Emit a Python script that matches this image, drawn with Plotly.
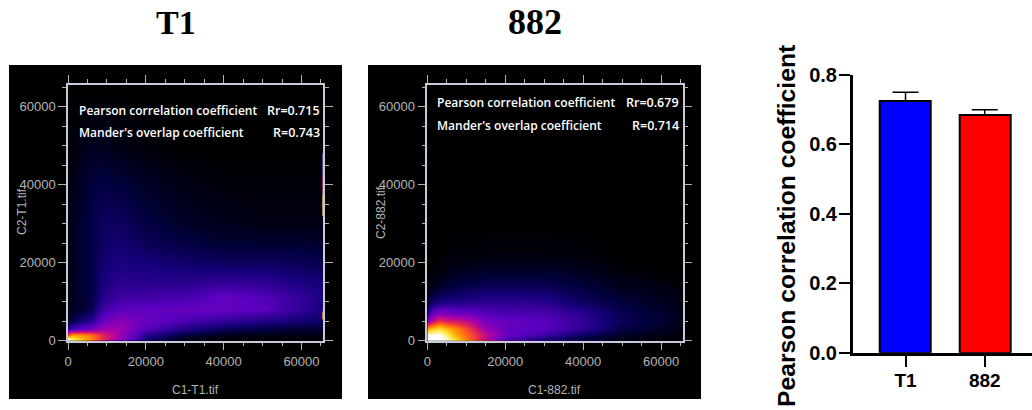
import plotly.graph_objects as go

W, H = 1032, 410

# ---------- data ----------
t1_x = [0, 1000, 3000, 6000, 9000, 13000, 20000, 30000, 40000, 50000, 60000, 65536]
t1_y = [0, 500, 1500, 3000, 5000, 8000, 11000, 15000, 20000, 25000, 30000, 40000, 50000, 65000]
t1_z = [
    [.95, .90, .80, .55, .40, .25, .12, .02, .01, .01, .01, .01],
    [1.0, .92, .82, .70, .52, .36, .12, .03, .01, .01, .01, .01],
    [.60, .75, .72, .66, .52, .38, .16, .06, .03, .02, .02, .02],
    [.18, .22, .27, .30, .38, .38, .24, .15, .09, .07, .05, .05],
    [.03, .08, .12, .17, .28, .34, .28, .22, .18, .15, .12, .10],
    [.02, .03, .05, .08, .20, .25, .26, .27, .27, .25, .18, .14],
    [.02, .03, .05, .07, .16, .20, .21, .22, .27, .24, .18, .14],
    [.02, .03, .05, .07, .13, .16, .16, .16, .18, .17, .14, .12],
    [.02, .03, .05, .07, .12, .14, .13, .11, .10, .10, .09, .08],
    [.02, .03, .05, .07, .10, .12, .09, .07, .05, .05, .05, .04],
    [.02, .03, .05, .07, .10, .10, .07, .04, .03, .02, .02, .02],
    [.01, .02, .04, .06, .07, .06, .04, .02, .01, .01, .01, .01],
    [.00, .01, .02, .03, .03, .02, .01, .00, .00, .00, .00, .00],
    [.00, .00, .00, .00, .00, .00, .00, .00, .00, .00, .00, .00],
]

n882_x = [0, 1000, 3000, 5000, 8000, 11000, 15000, 20000, 30000, 40000, 50000, 65536]
n882_y = [0, 500, 1500, 3000, 5000, 7000, 10000, 14000, 18000, 22000, 30000, 65000]
n882_z = [
    [1.0, 1.0, 1.0, 1.0, .90, .80, .65, .40, .30, .25, .05, .01],
    [1.0, 1.0, 1.0, .98, .80, .62, .42, .22, .12, .05, .02, .01],
    [1.0, 1.0, 1.0, .92, .72, .60, .45, .28, .20, .10, .04, .01],
    [.75, .82, .88, .80, .68, .55, .38, .27, .24, .17, .07, .02],
    [.35, .42, .55, .50, .48, .42, .30, .27, .25, .18, .09, .03],
    [.15, .25, .32, .32, .28, .27, .24, .22, .22, .16, .08, .03],
    [.05, .10, .13, .14, .15, .16, .17, .17, .16, .10, .06, .02],
    [.01, .02, .04, .05, .07, .08, .09, .09, .09, .06, .03, .01],
    [.00, .01, .01, .02, .03, .03, .04, .04, .04, .03, .01, .00],
    [.00, .00, .00, .01, .01, .01, .015, .015, .015, .01, .00, .00],
    [.00, .00, .00, .00, .00, .00, .00, .00, .00, .00, .00, .00],
    [.00, .00, .00, .00, .00, .00, .00, .00, .00, .00, .00, .00],
]

fire = [
    [0.00, "#000000"], [0.06, "#00003a"], [0.13, "#16007a"], [0.25, "#5a00c0"],
    [0.38, "#a000b0"], [0.50, "#dc1c60"], [0.62, "#ff5a20"], [0.75, "#ffa800"],
    [0.88, "#ffe640"], [1.00, "#ffffff"],
]

# saturated stretches of the T1 frame's right edge: y start, y end, colour
t1_edge_from = [5500, 32000, 37500, 42000]
t1_edge_to = [7500, 37500, 42000, 48000]
t1_edge_color = ["#e0a050", "#e0c870", "#b85090", "#7058b8"]

groups = ["T1", "882"]
means = [0.725, 0.685]
errors = [0.025, 0.015]
bar_colors = ["#0000ff", "#ff0000"]
bar_ticks = [0.0, 0.2, 0.4, 0.6, 0.8]

scatter_ticks = [0, 20000, 40000, 60000]
scatter_notes = [
    ("Pearson correlation coefficient", "Rr=0.715", "Mander's overlap coefficient", "R=0.743"),
    ("Pearson correlation coefficient", "Rr=0.679", "Mander's overlap coefficient", "R=0.714"),
]

# ---------- layout helpers ----------
def dx(a, b):
    return [a / W, b / W]

def dy(top, bottom):
    return [1 - bottom / H, 1 - top / H]

GRAY = "#b4b4b4"
FRAME = "#c8c8d8"
SANS = "Liberation Sans, Arial, sans-serif"
NOTE = "Open Sans, sans-serif"

fig = go.Figure()
fig.add_trace(go.Heatmap(x=t1_x, y=t1_y, z=t1_z, colorscale=fire, zmin=0, zmax=1, zsmooth="best",
                         showscale=False, xaxis="x", yaxis="y", hoverinfo="skip"))
fig.add_trace(go.Heatmap(x=n882_x, y=n882_y, z=n882_z, colorscale=fire, zmin=0, zmax=1, zsmooth="best",
                         showscale=False, xaxis="x2", yaxis="y2", hoverinfo="skip"))
fig.add_trace(go.Bar(
    x=groups, y=means, width=0.644,
    marker=dict(color=bar_colors, line=dict(color="#000000", width=2)),
    error_y=dict(type="data", symmetric=False, array=errors, arrayminus=[0, 0],
                 color="#000000", thickness=1.5, width=13),
    xaxis="x3", yaxis="y3", hoverinfo="skip",
))

def scatter_axis(domain, anchor):
    return dict(domain=domain, anchor=anchor, automargin=False, range=[0, 65536], showgrid=False,
                zeroline=False, showline=True, linecolor=FRAME, linewidth=1.5, mirror="allticks",
                ticks="outside", ticklen=8, tickcolor=GRAY, tickwidth=1, tickvals=scatter_ticks,
                tickformat="d", tickfont=dict(family=SANS, size=13, color=GRAY),
                minor=dict(dtick=5000, ticks="outside", ticklen=4, tickcolor=GRAY, tickwidth=1, showgrid=False))

x1 = scatter_axis(dx(68, 323), "y")
y1 = scatter_axis(dy(85, 340.7), "x")
x2 = scatter_axis(dx(427.3, 682.7), "y2")
y2 = scatter_axis(dy(85, 340.7), "x2")

x3 = dict(domain=dx(852.7, 1032), anchor="y3", automargin=False, type="category", range=[-0.667, 1.597],
          showgrid=False, zeroline=False, showline=True, linecolor="#000000", linewidth=2.5,
          ticks="outside", ticklen=12, tickwidth=2, tickcolor="#000000", ticklabelstandoff=-3,
          tickfont=dict(family=SANS, size=19, color="#000000", weight="bold"))
y3 = dict(domain=dy(75, 352.7), anchor="x3", automargin=False, range=[0, 0.8], showgrid=False, zeroline=False,
          showline=True, linecolor="#000000", linewidth=2.5, ticks="outside", ticklen=11, tickwidth=2,
          tickcolor="#000000", tickvals=bar_ticks, tickformat=".1f", ticklabelstandoff=-2,
          tickfont=dict(family=SANS, size=20, color="#000000", weight="bold"))

def px_note(x, y, text, size, color, family=SANS, anchor="center", angle=0, weight="normal", xshift=0):
    return dict(xref="paper", yref="paper", x=x / W, y=1 - y / H, text=text, showarrow=False,
                xanchor=anchor, yanchor="middle", textangle=angle, xshift=xshift,
                font=dict(family=family, size=size, color=color, weight=weight))

annotations = [
    px_note(176, 22, groups[0], 34, "#000000", "Liberation Serif, serif", weight="bold"),
    px_note(535, 22, groups[1], 36, "#000000", "Liberation Serif, serif", weight="bold"),
    px_note(195, 390, "C1-T1.tif", 12, GRAY),
    px_note(554, 390, "C1-882.tif", 12, GRAY),
    px_note(22, 212, "C2-T1.tif", 12, GRAY, angle=-90),
    px_note(381, 213, "C2-882.tif", 12, GRAY, angle=-90),
    px_note(786, 226, "Pearson correlation coefficient", 24.7, "#000000", angle=-90, weight="bold"),
]
for (l1, r1, l2, r2), xl, xr, y_a, y_b in [
    (scatter_notes[0], 79, 320, 110, 132),
    (scatter_notes[1], 437, 679, 102, 125),
]:
    annotations += [
        px_note(xl, y_a, l1, 12, "#ffffff", NOTE, "left", weight=600, xshift=-2),
        px_note(xr, y_a, r1, 12.5, "#ffffff", NOTE, "right", weight=600, xshift=2),
        px_note(xl, y_b, l2, 12, "#ffffff", NOTE, "left", weight=600, xshift=-2),
        px_note(xr, y_b, r2, 12.5, "#ffffff", NOTE, "right", weight=600, xshift=2),
    ]

def panel(x0, x1_, y0, y1_):
    return dict(type="rect", xref="paper", yref="paper", x0=x0 / W, x1=x1_ / W, y0=1 - y1_ / H, y1=1 - y0 / H,
                fillcolor="#000000", line=dict(width=0), layer="below")

edge_shapes = [
    dict(type="line", xref="x", yref="y", x0=65536, x1=65536, y0=a, y1=b, line=dict(color=c, width=1.5))
    for a, b, c in zip(t1_edge_from, t1_edge_to, t1_edge_color)
]

fig.update_layout(
    width=W, height=H, margin=dict(l=0, r=0, t=0, b=0), autosize=False,
    paper_bgcolor="#ffffff", plot_bgcolor="rgba(0,0,0,0)", showlegend=False, bargap=0,
    xaxis=x1, yaxis=y1, xaxis2=x2, yaxis2=y2, xaxis3=x3, yaxis3=y3,
    annotations=annotations,
    shapes=[panel(9, 342, 65, 399), panel(368, 701, 65, 399)] + edge_shapes,
)

fig.write_html("out.html", config=dict(displayModeBar=False),
               post_script="document.body.style.margin='0';document.body.style.overflow='hidden';")
